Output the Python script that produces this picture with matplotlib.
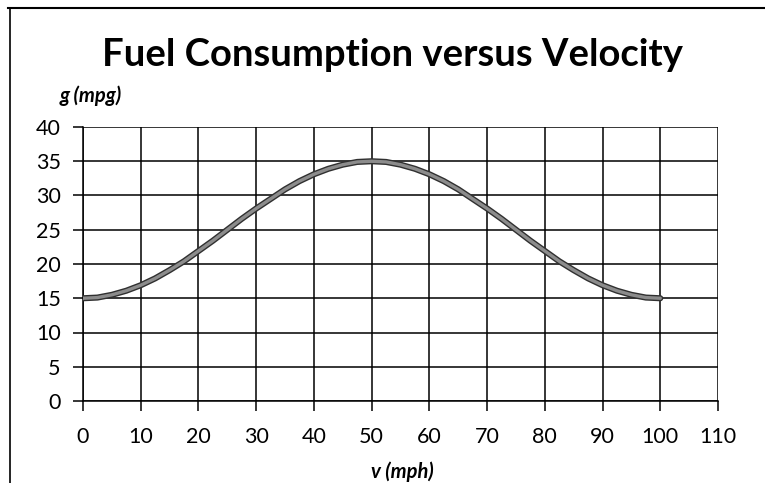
import matplotlib.pyplot as plt
from matplotlib.lines import Line2D

plt.rcParams['font.family'] = ['Lato', 'DejaVu Sans']

# speed (mph) and fuel economy (mpg)
speed = [0, 2.5, 5, 7.5, 10, 12.5, 15, 17.5, 20, 22.5, 25, 27.5, 30, 32.5,
         35, 37.5, 40, 42.5, 45, 47.5, 50, 52.5, 55, 57.5, 60, 62.5, 65,
         67.5, 70, 72.5, 75, 77.5, 80, 82.5, 85, 87.5, 90, 92.5, 95, 97.5, 100]
mpg = [15.0, 15.1, 15.5, 16.1, 16.9, 17.9, 19.1, 20.4, 21.9, 23.4, 25.0,
       26.6, 28.1, 29.5, 30.9, 32.1, 33.1, 33.9, 34.5, 34.9, 35.0, 34.9,
       34.5, 33.9, 33.1, 32.1, 30.9, 29.5, 28.1, 26.6, 25.0, 23.4, 21.9,
       20.4, 19.1, 17.9, 16.9, 16.1, 15.5, 15.1, 15.0]

x_ticks = list(range(0, 111, 10))
y_ticks = list(range(0, 41, 5))

fig = plt.figure(figsize=(7.65, 4.83), dpi=100)
ax = fig.add_axes([83 / 765, 1 - 401 / 483, 635 / 765, 274 / 483])

ax.plot(speed, mpg, color='#303030', linewidth=4.4,
        solid_capstyle='round', solid_joinstyle='round', zorder=3)
ax.plot(speed, mpg, color='#8c8c8c', linewidth=2.4,
        solid_capstyle='round', solid_joinstyle='round', zorder=4)

ax.set_xlim(0, 110)
ax.set_ylim(0, 40)
ax.set_xticks(x_ticks)
ax.set_yticks(y_ticks)
ax.grid(True, color='black', linewidth=1.1)
ax.set_axisbelow(True)
for s in ax.spines.values():
    s.set_color('black')
    s.set_linewidth(1.1)
ax.spines['top'].set_visible(False)
ax.spines['right'].set_visible(False)
ax.tick_params(axis='both', length=7, width=1.1, color='black', labelsize=15.5, direction='out')
ax.tick_params(axis='x', pad=12)
ax.tick_params(axis='y', pad=9)

fig.text(392 / 765, 1 - 55 / 483, 'Fuel Consumption versus Velocity',
         ha='center', va='center', fontsize=27.5, fontweight='bold')
fig.text(91 / 765, 1 - 96 / 483, 'g (mpg)', ha='center', va='center',
         fontsize=14.5, fontweight='bold', style='italic')
fig.text(402 / 765, 1 - 472 / 483, 'v (mph)', ha='center', va='center',
         fontsize=14.5, fontweight='bold', style='italic')

# outer frame (top and left edge only, as in the scan)
fig.add_artist(Line2D([8 / 765, 1], [1 - 8 / 483, 1 - 8 / 483], color='black', linewidth=1.5))
fig.add_artist(Line2D([10 / 765, 10 / 765], [0, 1 - 8 / 483], color='black', linewidth=1.2))

fig.savefig('out.png', dpi=100)
